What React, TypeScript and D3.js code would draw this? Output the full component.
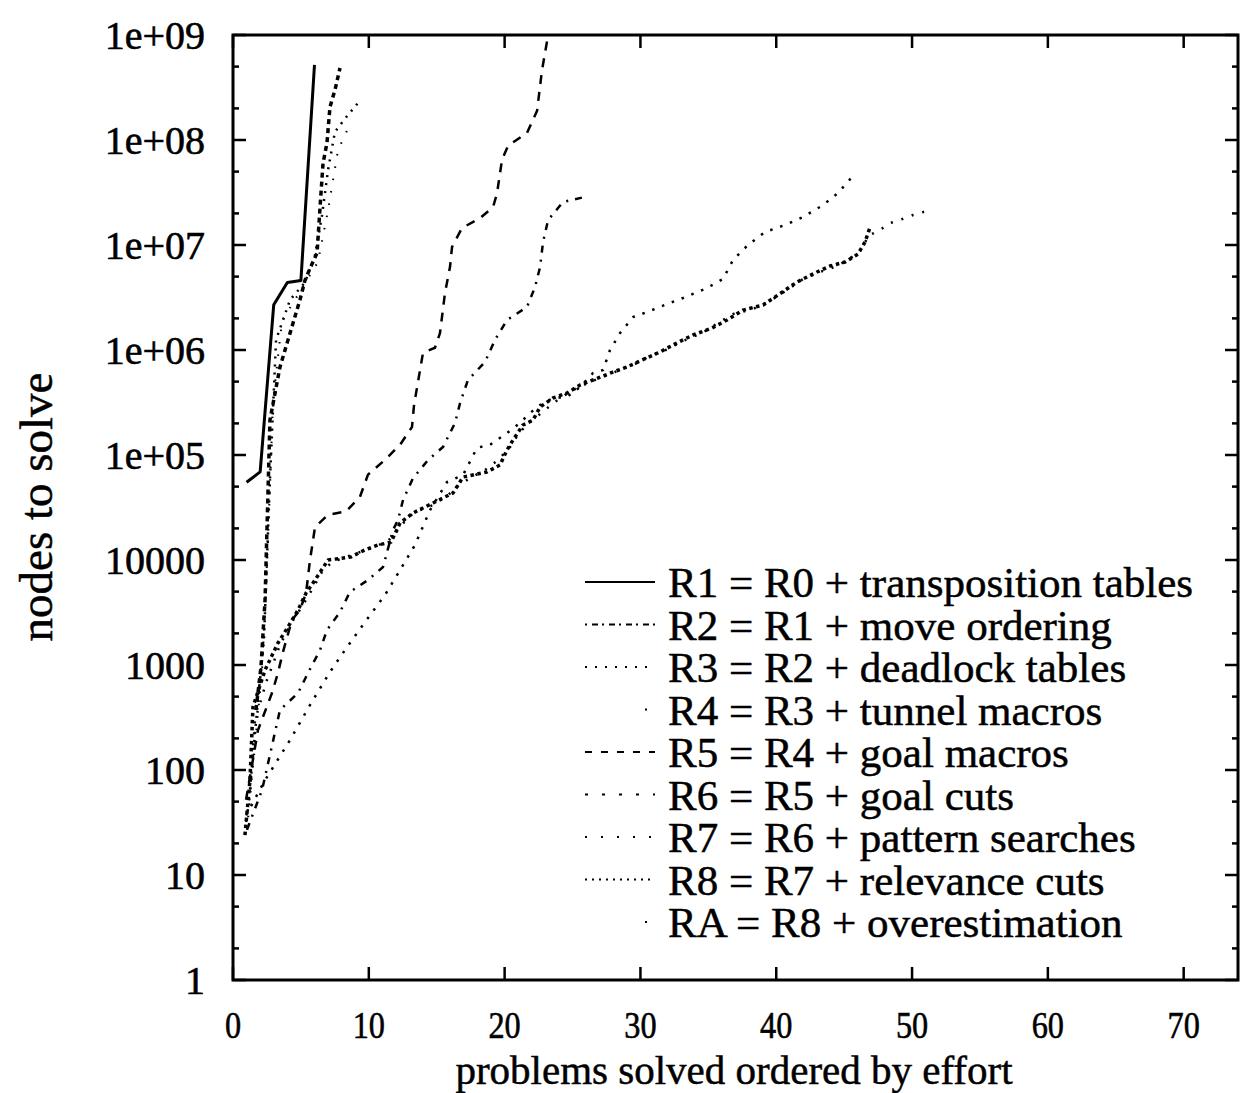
import * as d3 from "d3";

// problems solved (x, ordered by effort) vs nodes to solve (y)
const r1 = [[1, 5.5e4], [2, 6.9e4], [3, 2.7e6], [4, 4.4e6], [5, 4.6e6], [6, 5.2e8]];
const r2 = [
  [1.69, 373], [2.06, 957], [2.36, 4160], [2.72, 2.15e5], [3.46, 6.9e5], [4.93, 3.0e6],
  [5.3, 4.6e6], [5.67, 6.0e6], [6.19, 8.4e6], [6.41, 2.3e7], [6.63, 6.0e7], [6.92, 9.4e7],
  [7.14, 2.06e8], [7.51, 3.0e8], [7.88, 4.85e8],
];
const r3 = [
  [1.25, 65], [1.84, 464], [2.28, 1730], [2.72, 5.8e4], [3.17, 1.25e6], [4.2, 3.0e6],
  [5.3, 4.4e6], [6.04, 8.0e6], [6.55, 1.9e7], [7.0, 5.2e7], [7.51, 1.2e8], [8.25, 1.6e8],
  [9.2, 2.25e8],
];
const r4 = [
  [1.03, 27], [1.62, 173], [2.14, 900], [2.58, 1.55e4], [2.95, 3.3e5], [3.61, 1.9e6],
  [4.93, 3.6e6], [6.26, 6.9e6], [7.0, 2.15e7], [7.73, 8.0e7], [8.6, 1.4e8],
];
const r5 = [
  [0.96, 52], [1.84, 240], [2.87, 541], [3.31, 840], [3.68, 1330], [4.34, 2680], [4.93, 3340],
  [5.38, 4850], [5.67, 1.0e4], [6.04, 2.06e4], [7.0, 2.7e4], [8.32, 2.9e4], [9.35, 4.0e4],
  [9.94, 6.5e4], [11.19, 9.0e4], [12.3, 1.25e5], [13.18, 1.85e5], [13.33, 3.0e5],
  [13.99, 9.4e5], [14.87, 1.05e6], [15.24, 1.45e6], [15.61, 3.5e6], [15.98, 6.2e6],
  [16.13, 9.6e6], [16.86, 1.45e7], [18.19, 1.8e7], [19.15, 2.3e7], [19.44, 3.1e7],
  [19.81, 6.5e7], [20.25, 8.8e7], [21.65, 1.17e8], [22.39, 1.9e8], [22.75, 4.6e8],
  [23.4, 1.4e9],
];
const r6 = [
  [1.03, 27], [2.14, 64.5], [3.46, 373], [4.79, 541], [5.52, 839], [6.41, 1390], [6.92, 2150],
  [7.88, 3200], [8.61, 4960], [9.94, 6450], [11.05, 8580], [11.78, 1.93e4], [12.15, 2.4e4],
  [12.52, 3.73e4], [13.25, 6.0e4], [14.36, 8.96e4], [15.46, 1.19e5], [16.35, 2.02e5],
  [16.72, 3.13e5], [17.3, 5.18e5], [18.56, 7.69e5], [19.29, 1.25e6], [20.18, 1.93e6],
  [21.65, 2.57e6], [22.24, 3.98e6], [22.61, 6.17e6], [22.83, 1.07e7], [23.2, 1.73e7],
  [24.3, 2.57e7], [25.92, 2.87e7],
];
const r7 = [
  [0.96, 37], [2.36, 80], [4.2, 193], [5.67, 416], [7.14, 858], [8.25, 1390], [9.72, 2570],
  [11.19, 4640], [12.3, 8030], [13.4, 1.39e4], [14.51, 2.99e4], [15.76, 5.53e4], [16.94, 6.45e4],
  [17.97, 1.17e5], [18.92, 1.25e5], [20.18, 1.62e5], [21.13, 2.02e5], [21.87, 2.51e5],
  [22.61, 2.99e5], [23.56, 3.49e5], [24.59, 3.57e5], [25.55, 4.44e5], [26.51, 6.04e5],
  [27.25, 6.45e5], [27.76, 1.0e6], [28.5, 1.45e6], [29.46, 2.06e6], [30.49, 2.3e6],
  [31.96, 2.74e6], [33.14, 3.13e6], [34.76, 3.81e6], [36.08, 4.74e6], [36.82, 7.2e6],
  [37.92, 1.0e7], [39.18, 1.33e7], [40.65, 1.55e7], [41.97, 1.85e7], [43.45, 2.4e7],
  [44.55, 3.13e7], [45.58, 4.44e7],
];
const r8 = [
  [0.88, 24], [1.25, 80], [1.47, 398], [2.36, 896], [3.31, 1620], [4.05, 2300], [4.79, 3340],
  [5.38, 4850], [6.04, 6450], [7.0, 1.0e4], [8.69, 1.07e4], [9.72, 1.25e4], [10.68, 1.39e4],
  [11.63, 1.48e4], [12.3, 2.25e4], [13.25, 2.8e4], [13.99, 3.13e4], [14.73, 3.49e4],
  [16.2, 4.35e4], [16.94, 6.17e4], [18.7, 6.89e4], [19.66, 8.03e4], [20.18, 1.12e5],
  [20.62, 1.39e5], [21.35, 1.93e5], [22.09, 2.15e5], [22.61, 2.86e5], [23.56, 3.49e5],
  [24.59, 3.89e5], [25.55, 4.64e5], [26.51, 5.18e5], [27.98, 6.17e5], [29.01, 6.89e5],
  [30.12, 8.03e5], [31.44, 9.57e5], [32.7, 1.17e6], [33.87, 1.39e6], [35.27, 1.62e6],
  [36.38, 1.93e6], [37.56, 2.4e6], [39.03, 2.68e6], [40.13, 3.34e6], [41.53, 4.44e6],
  [43.0, 5.53e6], [43.96, 6.31e6], [45.07, 6.89e6], [46.02, 8.2e6], [46.54, 1.07e7],
  [46.91, 1.48e7],
];
const rA = [
  [0.96, 32], [1.25, 58], [1.62, 299], [2.5, 720], [3.46, 1550], [4.34, 2570], [5.15, 3720],
  [5.89, 5410], [6.55, 7690], [7.29, 9570], [8.76, 1.12e4], [10.24, 1.3e4], [11.41, 1.52e4],
  [12.15, 1.93e4], [12.89, 2.57e4], [13.77, 2.99e4], [14.73, 3.34e4], [15.76, 4.07e4],
  [16.72, 5.29e4], [17.6, 6.17e4], [18.56, 7.2e4], [19.51, 8.96e4], [20.4, 1.19e5],
  [21.13, 1.66e5], [21.87, 2.06e5], [22.97, 2.68e5], [24.08, 3.49e5], [25.04, 4.16e5],
  [26.29, 4.96e5], [27.39, 5.65e5], [28.5, 6.45e5], [29.6, 7.36e5], [30.71, 8.77e5],
  [32.03, 1.02e6], [33.14, 1.22e6], [34.54, 1.45e6], [35.71, 1.81e6], [36.82, 2.2e6],
  [38.29, 2.46e6], [39.54, 2.93e6], [40.8, 3.73e6], [41.97, 4.74e6], [43.22, 5.53e6],
  [44.48, 6.31e6], [45.58, 7.69e6], [46.32, 9.16e6], [46.76, 1.22e7], [47.64, 1.39e7],
  [48.38, 1.62e7], [48.9, 1.69e7], [50.07, 1.93e7], [51.1, 2.11e7],
];

const legendLabels = [
  "R1 = R0 + transposition tables",
  "R2 = R1 + move ordering",
  "R3 = R2 + deadlock tables",
  "R4 = R3 + tunnel macros",
  "R5 = R4 + goal macros",
  "R6 = R5 + goal cuts",
  "R7 = R6 + pattern searches",
  "R8 = R7 + relevance cuts",
  "RA = R8 + overestimation",
];

const xTicks = [0, 10, 20, 30, 40, 50, 60, 70];
const yTicks = [1, 10, 100, 1000, 1e4, 1e5, 1e6, 1e7, 1e8, 1e9];
const yTickLabels = ["1", "10", "100", "1000", "10000", "1e+05", "1e+06", "1e+07", "1e+08", "1e+09"];
const yMinorFactors = [2, 5];

// line styles, one per series (same order as the legend)
const styles = [
  { dash: null, width: 3, legendDash: null },
  { dash: "5 4", width: 3.5, legendDash: "2 5 6 4" },
  { dash: "2 6", width: 2.5, legendDash: "2 8" },
  { dash: "1.5 11", width: 2, legendDash: "2 100" },
  { dash: "9 8", width: 2.5, legendDash: "7 9" },
  { dash: "7 7 2 7", width: 2.5, legendDash: "3 14" },
  { dash: "2.5 8", width: 2.5, legendDash: "2 14" },
  { dash: "3.5 3.5", width: 3.5, legendDash: "2 5" },
  { dash: "2 9", width: 2.5, legendDash: "2 100" },
];

const W = 1243;
const H = 1093;
const left = 233;
const right = 1238;
const top = 35;
const bottom = 980;
const FONT = "'Liberation Serif', 'Times New Roman', serif";

export default function App() {
  const series = [r1, r2, r3, r4, r5, r6, r7, r8, rA];
  const x = d3.scaleLinear().domain([0, 74]).range([left, right]);
  const y = d3.scaleLog().domain([1, 1e9]).range([bottom, top]);
  const line = d3
    .line<number[]>()
    .x((d) => x(d[0]))
    .y((d) => y(d[1]));

  const minor: number[] = [];
  yTicks.slice(0, -1).forEach((t) => yMinorFactors.forEach((f) => minor.push(t * f)));

  const legX0 = 585;
  const legX1 = 655;
  const legTextX = 668;
  const legY0 = 582;
  const legStep = 42.5;

  return (
    <svg
      width={W}
      height={H}
      style={{ position: "absolute", left: 0, top: 0, background: "#fff" }}
      fontFamily={FONT}
    >
      <rect x={0} y={0} width={W} height={H} fill="#fff" />
      <defs>
        <clipPath id="plot">
          <rect x={left} y={top} width={right - left} height={bottom - top} />
        </clipPath>
      </defs>

      {/* curves */}
      <g clipPath="url(#plot)" fill="none" stroke="#000">
        {series.map((s, i) => (
          <path
            key={i}
            d={line(s) || ""}
            strokeWidth={styles[i].width}
            strokeDasharray={styles[i].dash || undefined}
            strokeLinejoin="round"
          />
        ))}
      </g>

      {/* ticks */}
      <g stroke="#000" strokeWidth={2.5}>
        {yTicks.map((t) => (
          <g key={"y" + t}>
            <line x1={left} x2={left + 13} y1={y(t)} y2={y(t)} />
            <line x1={right} x2={right - 13} y1={y(t)} y2={y(t)} />
          </g>
        ))}
        {minor.map((t) => (
          <g key={"m" + t}>
            <line x1={left} x2={left + 6} y1={y(t)} y2={y(t)} />
            <line x1={right} x2={right - 6} y1={y(t)} y2={y(t)} />
          </g>
        ))}
        {xTicks.map((t) => (
          <g key={"x" + t}>
            <line x1={x(t)} x2={x(t)} y1={bottom} y2={bottom - 13} />
            <line x1={x(t)} x2={x(t)} y1={top} y2={top + 13} />
          </g>
        ))}
      </g>

      {/* frame */}
      <rect
        x={left}
        y={top}
        width={right - left}
        height={bottom - top}
        fill="none"
        stroke="#000"
        strokeWidth={3}
      />

      {/* tick labels */}
      <g fill="#000" stroke="#000" strokeWidth={0.6}>
        {yTicks.map((t, i) => (
          <text key={"yl" + t} x={205} y={y(t) + 14} textAnchor="end" fontSize={40}>
            {yTickLabels[i]}
          </text>
        ))}
        {xTicks.map((t) => (
          <text
            key={"xl" + t}
            transform={`translate(${x(t)},${1038}) scale(0.85,1)`}
            textAnchor="middle"
            fontSize={38}
          >
            {t}
          </text>
        ))}
      </g>

      {/* axis titles */}
      <text
        x={734}
        y={1084}
        fontSize={41}
        textAnchor="middle"
        fill="#000"
        stroke="#000"
        strokeWidth={0.5}
      >
        problems solved ordered by effort
      </text>
      <text
        transform={`translate(52,507) rotate(-90)`}
        fontSize={47}
        textAnchor="middle"
        fill="#000"
        stroke="#000"
        strokeWidth={0.5}
      >
        nodes to solve
      </text>

      {/* legend */}
      <g>
        {legendLabels.map((lab, i) => {
          const yy = legY0 + i * legStep;
          const st = styles[i];
          return (
            <g key={lab}>
              <line
                x1={legX0}
                x2={legX1}
                y1={yy}
                y2={yy}
                stroke="#000"
                strokeWidth={2}
                strokeDasharray={st.legendDash || undefined}
                strokeDashoffset={st.legendDash && st.legendDash.endsWith("100") ? -60 : 0}
              />
              <text
                x={legTextX}
                y={yy + 15}
                fontSize={43}
                fill="#000"
                stroke="#000"
                strokeWidth={0.5}
              >
                {lab}
              </text>
            </g>
          );
        })}
      </g>
    </svg>
  );
}
